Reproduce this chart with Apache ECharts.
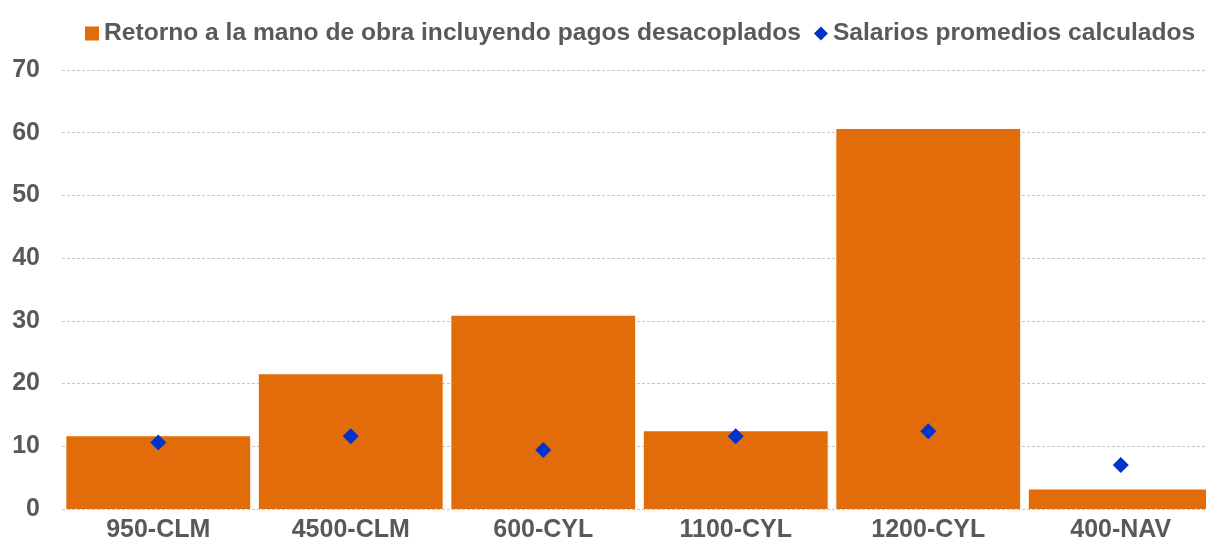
<!DOCTYPE html>
<html>
<head>
<meta charset="utf-8">
<script src="https://cdn.jsdelivr.net/npm/echarts@6/dist/echarts.min.js"></script>
<style>
  html, body { margin: 0; padding: 0; background: #fff; }
  #chart { width: 1206px; height: 546px; }
</style>
</head>
<body>
<div id="chart"></div>
<script>
  // categorías y valores
  const categories = ['950-CLM', '4500-CLM', '600-CYL', '1100-CYL', '1200-CYL', '400-NAV']
  const retornoManoObra = [11.6, 21.5, 30.8, 12.4, 60.6, 3.1]
  const salariosPromedio = [10.6, 11.6, 9.4, 11.6, 12.4, 7.0]
  const seriesNames = ['Retorno a la mano de obra incluyendo pagos desacoplados', 'Salarios promedios calculados']

  const textColor = '#595959'
  const font = { fontFamily: '"Liberation Sans", Arial, sans-serif', fontWeight: 'bold', fontSize: 25, color: textColor }

  const myChart = echarts.init(document.getElementById('chart'))
  myChart.setOption({
    animation: false,
    legend: {
      top: 16,
      left: 80,
      itemWidth: 14,
      itemHeight: 14,
      itemGap: 13,
      textStyle: { ...font, fontSize: 24.6 },
      data: [
        { name: seriesNames[0], icon: 'rect' },
        { name: seriesNames[1], icon: 'diamond' }
      ]
    },
    // el área del gráfico continúa un poco más allá del borde derecho
    grid: { left: 62, right: -11, top: 70, bottom: 37, outerBoundsMode: 'none' },
    xAxis: {
      type: 'category',
      data: categories,
      axisLine: { show: false },
      axisTick: { show: false },
      axisLabel: { ...font, margin: 9 }
    },
    yAxis: {
      type: 'value',
      min: 0,
      max: 70,
      interval: 10,
      axisLine: { show: false },
      axisTick: { show: false },
      axisLabel: { ...font, margin: 22 },
      splitLine: {
        show: true,
        lineStyle: { color: '#c6c6c6', width: 1, type: [3, 2] }
      }
    },
    series: [
      {
        name: seriesNames[0],
        type: 'bar',
        data: retornoManoObra,
        barCategoryGap: '4.5%',
        itemStyle: { color: '#E36C0A' }
      },
      {
        name: seriesNames[1],
        type: 'scatter',
        data: salariosPromedio,
        symbol: 'diamond',
        symbolSize: 16,
        itemStyle: { color: '#0033CC', opacity: 1 },
        z: 3
      }
    ]
  })
</script>
</body>
</html>
